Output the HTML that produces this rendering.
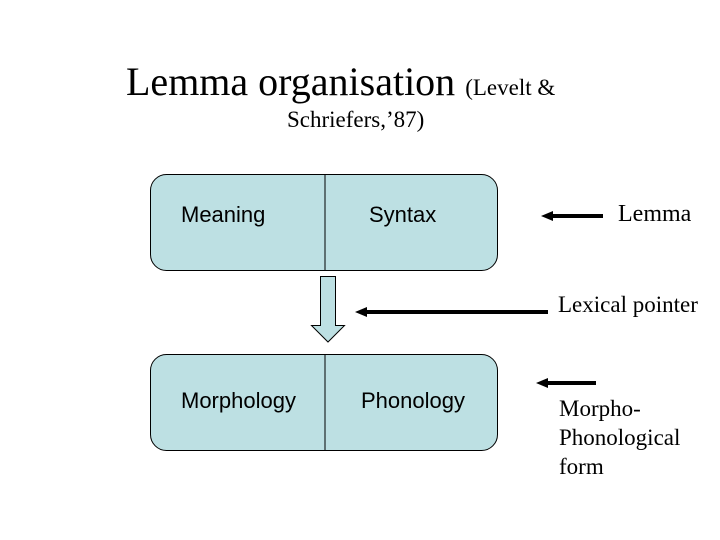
<!DOCTYPE html>
<html><head><style>
body{margin:0;background:#fff;}
.s{position:absolute;white-space:nowrap;}
.ser{font-family:"Liberation Serif",serif;color:#000;}
.san{font-family:"Liberation Sans",sans-serif;color:#000;font-size:22px;}
</style></head><body>
<div style="position:relative;width:720px;height:540px;overflow:hidden">
<div class="s ser" style="left:126px;top:58px;font-size:40px">Lemma organisation <span style="font-size:23px">(Levelt &amp;</span></div>
<div class="s ser" style="left:287px;top:107px;font-size:23px">Schriefers,’87)</div>
<svg width="720" height="540" style="position:absolute;left:0;top:0">
<rect x="150.5" y="174.5" width="347" height="96" rx="16" fill="#bde0e3" stroke="#000"/>
<line x1="325" y1="174" x2="325" y2="270" stroke="#000"/>
<rect x="150.5" y="354.5" width="347" height="96" rx="16" fill="#bde0e3" stroke="#000"/>
<line x1="325" y1="354" x2="325" y2="450" stroke="#000"/>
<path d="M320.5,276.5 H335.5 V325.5 H344.5 L328,342 L311.5,325.5 H320.5 Z" fill="#bde0e3" stroke="#000"/>
<rect x="550" y="214" width="53" height="4" fill="#000"/>
<polygon points="541,216 553,211 553,221" fill="#000"/>
<rect x="364" y="310" width="184" height="4" fill="#000"/>
<polygon points="355,312 367,307 367,317" fill="#000"/>
<rect x="545" y="381" width="51" height="4" fill="#000"/>
<polygon points="536,383 548,378 548,388" fill="#000"/>
</svg>
<div class="s san" style="left:181px;top:202px">Meaning</div>
<div class="s san" style="left:369px;top:202px">Syntax</div>
<div class="s san" style="left:181px;top:388px">Morphology</div>
<div class="s san" style="left:361px;top:388px">Phonology</div>
<div class="s ser" style="left:618px;top:201px;font-size:24px">Lemma</div>
<div class="s ser" style="left:558px;top:292px;font-size:23px">Lexical pointer</div>
<div class="s ser" style="left:559px;top:394px;font-size:23px;line-height:29px">Morpho-<br>Phonological<br>form</div>
</div>
</body></html>
